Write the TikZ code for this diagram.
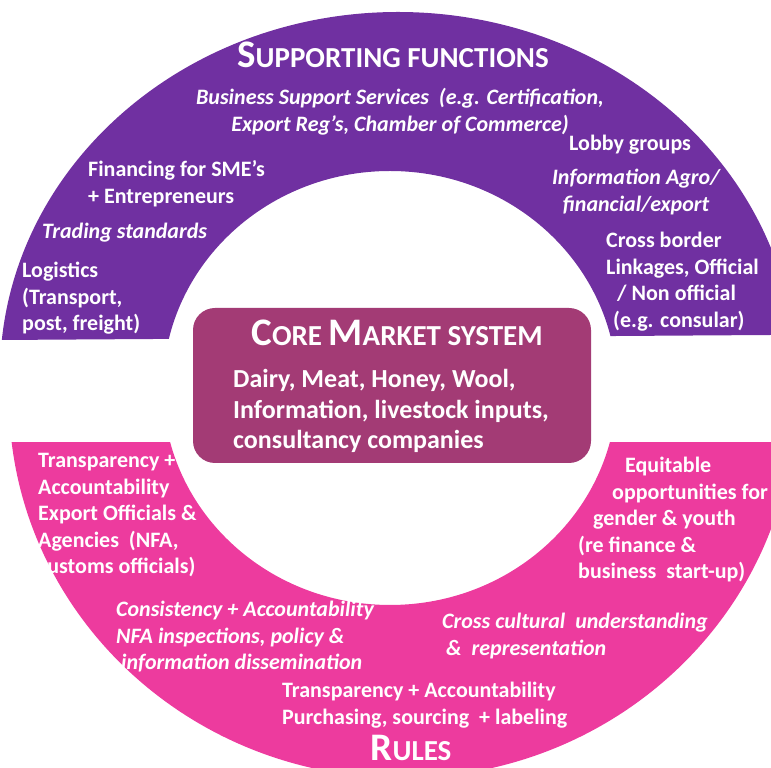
\documentclass[tikz,border=0pt]{standalone}
\usepackage{fontspec}
\setmainfont{Carlito}
\definecolor{suppviolet}{rgb}{0.44,0.19,0.63}
\definecolor{rulepink}{rgb}{0.93,0.23,0.62}
\definecolor{coreplum}{rgb}{0.64,0.23,0.46}
\newcommand{\capword}[2]{{\fontsize{39}{42}\selectfont #1}{\fontsize{29}{32}\selectfont #2}}

\begin{document}
\begin{tikzpicture}[x=1pt,y=1pt,
    lbl/.style={text=white,inner sep=0pt,align=left,font=\bfseries\fontsize{22}{26.5}\selectfont},
    ital/.style={lbl,font=\bfseries\itshape\fontsize{22}{26.5}\selectfont}]

    \useasboundingbox (0,0) rectangle (771,768);

    % upper half of the ring
    \begin{scope}
    \clip (0,428) -- (771,433) -- (771,768) -- (0,768) -- cycle;
    \fill[suppviolet,even odd rule] (398,393) ellipse [x radius=398,y radius=363] (390,380) ellipse [x radius=227,y radius=217];
    \end{scope}

    % lower half of the ring
    \begin{scope}
    \clip (0,325) -- (771,325) -- (771,0) -- (0,0) -- cycle;
    \fill[rulepink,even odd rule] (402,370) ellipse [x radius=393,y radius=380] (390,380) ellipse [x radius=227,y radius=217];
    \end{scope}

    % centre box (base of a text = its last line)
    \node[fill=coreplum,rounded corners=22pt,minimum width=398pt,minimum height=155pt] (core) at (392,382.5) {};
    \node[lbl,anchor=base] (coretitle) at (397,422) {\capword{C}{ORE }\capword{M}{ARKET SYSTEM}};
    \node[lbl,anchor=base west,font=\bfseries\fontsize{26}{30.5}\selectfont] (coreitems) at (233,319) {Dairy, Meat, Honey, Wool,\\Information, livestock inputs,\\consultancy companies};

    % supporting functions
    \node[lbl,anchor=base] (supptitle) at (393,700) {\capword{S}{UPPORTING FUNCTIONS}};
    \node[ital,anchor=base,align=center] (business) at (400,636.5) {Business Support Services~ (e.g. Certification,\\Export Reg’s, Chamber of Commerce)};
    \node[lbl,anchor=base west] (lobby) at (569,617) {Lobby groups};
    \node[ital,anchor=base,align=center] (infoagro) at (636,556.5) {Information Agro/\\financial/export};
    \node[lbl,anchor=base west] (financing) at (88,564.5) {Financing for SME’s\\+ Entrepreneurs};
    \node[ital,anchor=base west] (trading) at (42,529) {Trading standards};
    \node[lbl,anchor=base west] (crossborder) at (606,440.5) {Cross border\\Linkages, Official\\\hspace*{11pt}/ Non official\\\hspace*{7pt}(e.g. consular)};
    \node[lbl,anchor=base west] (logistics) at (22,437) {Logistics\\(Transport,\\post, freight)};

    % rules
    \node[lbl,anchor=base west] (exportoff) at (38,194) {Transparency +\\Accountability\\Export Officials \&\\Agencies~ (NFA,\\customs officials)};
    \node[lbl,anchor=base west] (equitable) at (578,189) {\hspace*{47pt}Equitable\\\hspace*{34pt}opportunities for\\\hspace*{15pt}gender \& youth\\(re finance \&\\business~ start-up)};
    \node[ital,anchor=base west] (consistency) at (116,98) {Consistency + Accountability\\NFA inspections, policy \&\\\hspace*{5pt}information dissemination};
    \node[ital,anchor=base west] (crosscult) at (442,112.5) {Cross cultural~ understanding\\\hspace*{4pt}\&~ representation};
    \node[lbl,anchor=base west] (purchasing) at (282,43.5) {Transparency + Accountability\\Purchasing, sourcing~ + labeling};
    \node[lbl,anchor=base] (rulestitle) at (411,7) {\capword{R}{ULES}};
\end{tikzpicture}
\end{document}
